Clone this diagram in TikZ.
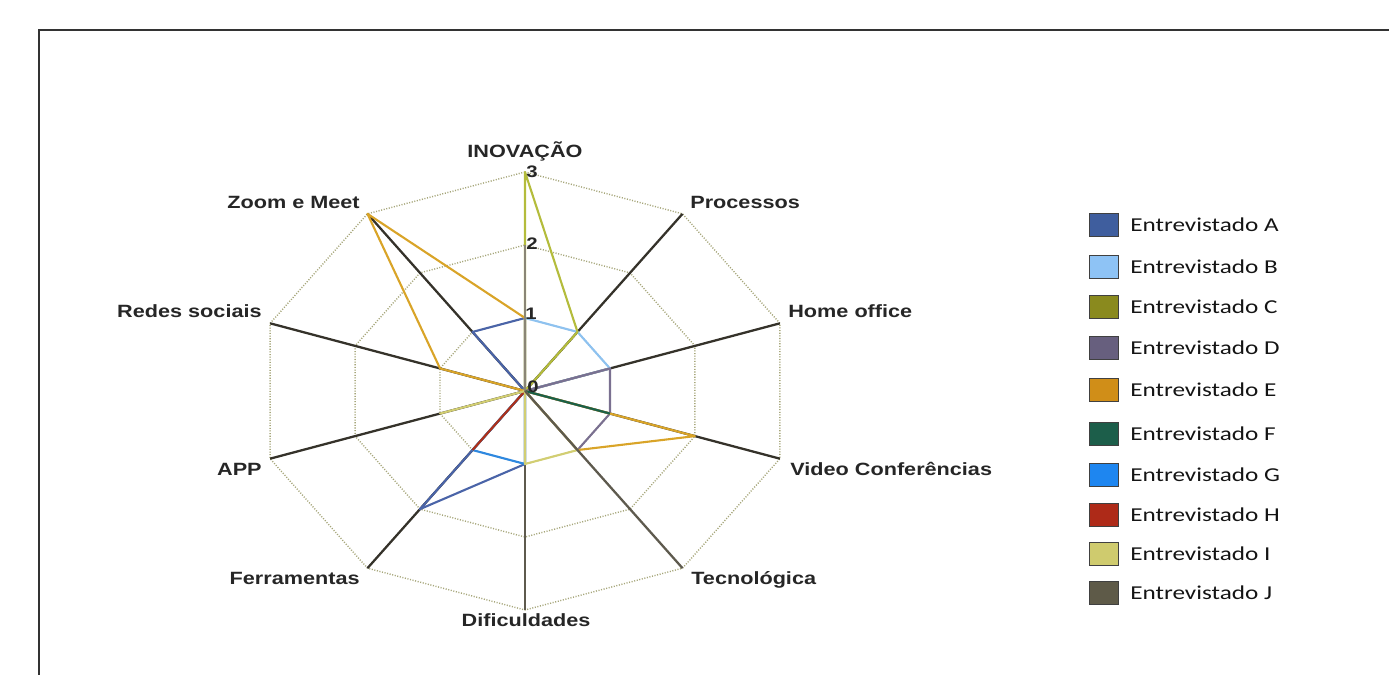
\documentclass[tikz,border=0pt]{standalone}
\usepackage{fontspec}
\newfontfamily\labfont[FakeStretch=1.22]{Liberation Sans}
\newfontfamily\legfont[FakeStretch=1.28]{Carlito}
\definecolor{cA}{HTML}{4A64A8}
\definecolor{cB}{HTML}{8EC2F0}
\definecolor{cC}{HTML}{B4BC3C}
\definecolor{cD}{HTML}{7A7090}
\definecolor{cE}{HTML}{D9A428}
\definecolor{cF}{HTML}{1A6048}
\definecolor{cG}{HTML}{2E88E0}
\definecolor{cH}{HTML}{B03018}
\definecolor{cI}{HTML}{D2CE72}
\definecolor{cJ}{HTML}{8A8575}
\definecolor{spoke}{HTML}{35322A}
\definecolor{spokeg}{HTML}{5E5A4E}
\definecolor{gridc}{HTML}{A6A67A}
\definecolor{lA}{HTML}{3F5E9E}
\definecolor{lB}{HTML}{8EC3F5}
\definecolor{lC}{HTML}{8A8A1E}
\definecolor{lD}{HTML}{675F7E}
\definecolor{lE}{HTML}{D08E18}
\definecolor{lF}{HTML}{1C5E4A}
\definecolor{lG}{HTML}{1E86F0}
\definecolor{lH}{HTML}{AE2A18}
\definecolor{lI}{HTML}{CFCB6E}
\definecolor{lJ}{HTML}{5E5A48}
\begin{document}
\begin{tikzpicture}[x=0.02cm,y=-0.02cm,
  gridline/.style={draw=gridc,line width=0.8pt,dash pattern=on 0.6pt off 0.9pt},
  spk/.style={draw=spoke,line width=1.3pt},
  ser/.style={line width=1.2pt,line join=round},
  axlab/.style={font=\labfont\bfseries\fontsize{10.1}{12}\selectfont,text=black!85,inner sep=0pt},
  numlab/.style={font=\labfont\bfseries\fontsize{9.5}{11}\selectfont,text=black!85,inner sep=0pt,anchor=base},
  legsq/.style={draw=black!75,line width=0.5pt,minimum width=0.58cm,minimum height=0.46cm,inner sep=0pt},
  legtxt/.style={font=\legfont\fontsize{11.2}{13}\selectfont,text=black!92,inner sep=0pt,anchor=west}]
\useasboundingbox (0,0) rectangle (1389,675);
% frame
\coordinate (fbl) at (39,675);
\coordinate (ftl) at (39,30);
\coordinate (ftr) at (1389,30);
\draw[line width=0.8pt,draw=black!80] (fbl) -- (ftl) -- (ftr);
% points
\coordinate (c) at (525,391);
\foreach \k in {0,...,9}{
  \foreach \v in {1,2,3}{
    \coordinate (p\k-\v) at ({525+\v*89.333*cos(90-36*\k)},{391-\v*73*sin(90-36*\k)});
  }
}
% grid
\foreach \v in {1,2,3}{
  \draw[gridline] (p0-\v) -- (p1-\v) -- (p2-\v) -- (p3-\v) -- (p4-\v) -- (p5-\v) -- (p6-\v) -- (p7-\v) -- (p8-\v) -- (p9-\v) -- cycle;
}
% dark spokes
\foreach \k in {1,2,3,6,7,8,9}{ \draw[spk] (c) -- (p\k-3); }
\draw[spk,draw=spokeg] (c) -- (p5-3);
% series
\draw[ser,cA] (p0-1) -- (c) -- (p5-1) -- (p6-2) -- (c) -- (p9-1) -- cycle;
\draw[ser,cB] (c) -- (p0-1) -- (p1-1) -- (p2-1) -- (c);
\draw[ser,cC] (c) -- (p0-3) -- (p1-1) -- (c);
\draw[ser,cD] (c) -- (p2-1) -- (p3-1) -- (p4-1) -- (c);
\draw[ser,cE] (p0-1) -- (c) -- (p3-2) -- (p4-1) -- (c) -- (p8-1) -- (p9-3) -- cycle;
\draw[ser,cF] (c) -- (p3-1);
\draw[ser,cG] (c) -- (p6-1) -- (p5-1) -- (c);
\draw[ser,cH] (c) -- (p6-1);
\draw[ser,cI] (c) -- (p4-1) -- (p5-1) -- (c) -- (p7-1) -- (c);
\draw[ser,cJ,line width=1.3pt] (c) -- (p0-2);
\draw[spk,draw=spokeg] (c) -- (p4-3);
% axis labels
\node[axlab,anchor=base] (l0) at (525,158) {INOVAÇÃO};
\node[axlab,anchor=base west] (l1) at (690,209) {Processos};
\node[axlab,anchor=base west] (l2) at (788,318) {Home office};
\node[axlab,anchor=base west] (l3) at (790,475) {Video Conferências};
\node[axlab,anchor=base west] (l4) at (691,584) {Tecnológica};
\node[axlab,anchor=base] (l5) at (526,626) {Dificuldades};
\node[axlab,anchor=base east] (l6) at (360,584) {Ferramentas};
\node[axlab,anchor=base east] (l7) at (262,475) {APP};
\node[axlab,anchor=base east] (l8) at (262,318) {Redes sociais};
\node[axlab,anchor=base east] (l9) at (360,209) {Zoom e Meet};
% scale numbers
\node[numlab] (n3) at (532,178) {3};
\node[numlab] (n2) at (532,250) {2};
\node[numlab] (n1) at (531,320) {1};
\node[numlab] (n0) at (533,393) {0};
% legend
\foreach \i/\y in {A/225,B/267,C/307,D/348,E/390,F/434,G/475,H/515,I/554,J/593}{
  \node[legsq,fill=l\i] (sq\i) at (1103.5,\y) {};
  \node[legtxt] (lt\i) at (1130,\y) {Entrevistado \i};
}
\end{tikzpicture}
\end{document}
